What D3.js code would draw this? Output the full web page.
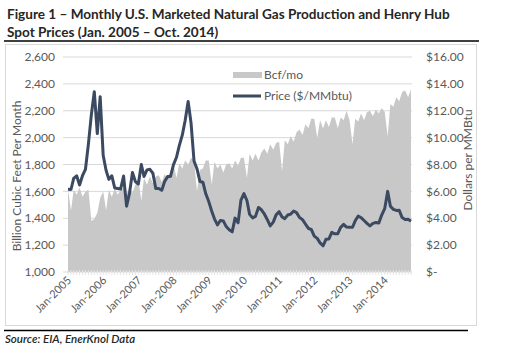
<!DOCTYPE html>
<html>
<head>
<meta charset="utf-8">
<script src="https://cdn.jsdelivr.net/npm/d3@7"></script>
<style>
  body { margin: 0; background: #fff; }
  text { font-family: Lato, "Open Sans", sans-serif; }
</style>
</head>
<body>
<div id="chart"></div>
<script>
// monthly marketed production, Bcf (Jan 2005 - Oct 2014)
const production = [
  1612, 1456, 1612, 1575, 1628, 1560, 1597, 1612, 1380, 1395, 1440, 1550,
  1600, 1460, 1610, 1560, 1620, 1575, 1610, 1620, 1580, 1630, 1590, 1650,
  1690, 1530, 1700, 1650, 1710, 1660, 1710, 1720, 1670, 1730, 1690, 1750,
  1800, 1700, 1810, 1770, 1830, 1800, 1850, 1830, 1600, 1760, 1770, 1830,
  1830, 1650, 1820, 1770, 1800, 1740, 1800, 1810, 1770, 1830, 1790, 1850,
  1850, 1700, 1880, 1830, 1880, 1830, 1890, 1920, 1880, 1950, 1910, 1960,
  1970, 1750, 1980, 1950, 2010, 1970, 2040, 2060, 2020, 2100, 2070, 2140,
  2140, 2000, 2130, 2070, 2130, 2080, 2150, 2150, 2070, 2150, 2130, 2200,
  2130, 1950, 2140, 2120, 2180, 2130, 2190, 2200, 2160, 2210, 2180, 2220,
  2190, 2010, 2250, 2230, 2300, 2270, 2340, 2350, 2300, 2360
];

// Henry Hub spot, $/MMBtu
const price = [
  6.15, 6.14, 6.96, 7.16, 6.47, 7.18, 7.63, 9.53, 11.75, 13.42, 10.30, 13.05,
  8.69, 7.54, 6.89, 7.16, 6.25, 6.21, 6.17, 7.14, 4.90, 5.85, 7.41, 6.73,
  6.55, 8.00, 7.11, 7.60, 7.64, 7.35, 6.22, 6.22, 6.08, 6.74, 7.10, 7.11,
  7.99, 8.54, 9.41, 10.18, 11.27, 12.69, 11.09, 8.26, 7.67, 6.74, 6.68, 5.82,
  5.24, 4.52, 3.96, 3.50, 3.83, 3.80, 3.38, 3.14, 2.99, 4.01, 3.66, 5.35,
  5.83, 5.32, 4.29, 4.03, 4.14, 4.80, 4.63, 4.32, 3.89, 3.43, 3.71, 4.25,
  4.49, 4.09, 3.97, 4.24, 4.31, 4.54, 4.42, 4.06, 3.90, 3.57, 3.24, 3.17,
  2.67, 2.50, 2.17, 1.95, 2.43, 2.46, 2.95, 2.84, 2.85, 3.32, 3.54, 3.34,
  3.33, 3.33, 3.81, 4.17, 4.04, 3.83, 3.62, 3.43, 3.62, 3.68, 3.64, 4.24,
  4.71, 6.00, 4.90, 4.66, 4.58, 4.59, 4.05, 3.91, 3.92, 3.78
];

const leftTicks = [1000, 1200, 1400, 1600, 1800, 2000, 2200, 2400, 2600];
const rightTicks = [0, 2, 4, 6, 8, 10, 12, 14, 16];
const yearLabels = [2005, 2006, 2007, 2008, 2009, 2010, 2011, 2012, 2013, 2014];

const titleLines = [
  "Figure 1 \u2013 Monthly U.S. Marketed Natural Gas Production and Henry Hub",
  "Spot Prices (Jan. 2005 \u2013 Oct. 2014)"
];
const seriesNames = ["Bcf/mo", "Price ($/MMbtu)"];

const width = 506, height = 352;
const areaGray = "#c8c8c8",
      lineBlue = "#3b4961",
      gridGray = "#d9d9d9",
      labelGray = "#595959";

var formatComma = d3.format(",d");
var formatDollar = d => d === 0 ? "$-" : "$" + d.toFixed(2);

const months = d3.timeMonth.range(new Date(2005, 0, 1), new Date(2014, 10, 1));
const data = months.map((m, i) => ({date: m, bcf: production[i], price: price[i]}));

const svg = d3.select("#chart").append("svg")
    .attr("width", width)
    .attr("height", height);

// title, shrunk so the first line ends where the reference's does
var title = svg.selectAll("text.title")
    .data(titleLines)
  .enter().append("text")
    .attr("class", "title")
    .attr("x", 7)
    .attr("y", (d, i) => 19 + i * 17.5)
    .attr("fill", "#262626")
    .attr("font-size", "15px")
    .attr("font-weight", "bold")
    .text(d => d);

var titleWidth = title.node().getComputedTextLength();
title.attr("font-size", (15 * 443 / titleWidth) + "px");

svg.append("line")
    .attr("x1", 4).attr("x2", 479)
    .attr("y1", 41).attr("y2", 41)
    .attr("stroke", "#000").attr("stroke-width", 1.5);

// chart frame
svg.append("rect")
    .attr("x", 5.5).attr("y", 44.5)
    .attr("width", 471).attr("height", 281)
    .attr("fill", "none")
    .attr("stroke", gridGray);

svg.append("line")
    .attr("x1", 4).attr("x2", 468)
    .attr("y1", 330.5).attr("y2", 330.5)
    .attr("stroke", "#000").attr("stroke-width", 1.5);

svg.append("text")
    .attr("x", 5).attr("y", 343)
    .attr("fill", "#262626")
    .attr("font-size", "11.5px")
    .attr("font-style", "italic")
    .attr("font-weight", 600)
    .text("Source: EIA, EnerKnol Data");

// scales
const x = d3.scaleTime()
    .domain([months[0], months[months.length - 1]])
    .range([68, 411]);

const yLeft = d3.scaleLinear().domain([1000, 2600]).range([272, 57]);
const yRight = d3.scaleLinear().domain([0, 16]).range([272, 57]);

// gridlines
svg.append("g")
    .selectAll("line")
    .data(leftTicks.slice(1))
  .enter().append("line")
    .attr("x1", 63).attr("x2", 412)
    .attr("y1", d => yLeft(d)).attr("y2", d => yLeft(d))
    .attr("stroke", gridGray);

// production area
svg.append("path")
    .datum(data)
    .attr("fill", areaGray)
    .attr("d", d3.area()
      .x(d => x(d.date))
      .y0(yLeft(1000))
      .y1(d => yLeft(d.bcf)));

// x axis
const xAxis = svg.append("g")
    .attr("transform", `translate(0,${yLeft(1000)})`);

xAxis.append("line")
    .attr("x1", 63).attr("x2", 412)
    .attr("stroke", gridGray);

xAxis.selectAll("line.tick")
    .data(months)
  .enter().append("line")
    .attr("class", "tick")
    .attr("x1", d => x(d)).attr("x2", d => x(d))
    .attr("y1", -2).attr("y2", 3)
    .attr("stroke", "#e4e4e4");

xAxis.selectAll("text")
    .data(yearLabels)
  .enter().append("text")
    .attr("transform", d => `translate(${x(new Date(d, 0, 1)) + 4},${9}) rotate(-45)`)
    .attr("text-anchor", "end")
    .attr("fill", labelGray)
    .attr("font-size", "11px")
    .text(d => "Jan-" + d);

// left axis labels
svg.append("g")
    .selectAll("text")
    .data(leftTicks)
  .enter().append("text")
    .attr("x", 55)
    .attr("y", d => yLeft(d))
    .attr("dy", "0.35em")
    .attr("text-anchor", "end")
    .attr("fill", labelGray)
    .attr("font-size", "12px")
    .text(d => formatComma(d));

// right axis labels
svg.append("g")
    .selectAll("text")
    .data(rightTicks)
  .enter().append("text")
    .attr("x", 426)
    .attr("y", d => yRight(d))
    .attr("dy", "0.35em")
    .attr("fill", labelGray)
    .attr("font-size", "12px")
    .text(d => formatDollar(d));

svg.append("text")
    .attr("transform", "translate(21,176) rotate(-90)")
    .attr("text-anchor", "middle")
    .attr("fill", labelGray)
    .attr("font-size", "12px")
    .text("Billion Cubic Feet Per Month");

svg.append("text")
    .attr("transform", "translate(468,160) rotate(-90)")
    .attr("text-anchor", "middle")
    .attr("dy", "0.35em")
    .attr("fill", labelGray)
    .attr("font-size", "12px")
    .text("Dollars per MMBtu");

// price line
svg.append("path")
    .datum(data)
    .attr("fill", "none")
    .attr("stroke", lineBlue)
    .attr("stroke-width", 3)
    .attr("stroke-linejoin", "round")
    .attr("d", d3.line()
      .x(d => x(d.date))
      .y(d => yRight(d.price)));

// legend
const legend = svg.append("g");

legend.append("rect")
    .attr("x", 233).attr("y", 72)
    .attr("width", 29).attr("height", 6)
    .attr("fill", areaGray);

legend.append("line")
    .attr("x1", 233).attr("x2", 261)
    .attr("y1", 96).attr("y2", 96)
    .attr("stroke", lineBlue)
    .attr("stroke-width", 3);

legend.selectAll("text")
    .data(seriesNames)
  .enter().append("text")
    .attr("x", 264)
    .attr("y", (d, i) => 75 + i * 21)
    .attr("dy", "0.35em")
    .attr("fill", labelGray)
    .attr("font-size", "12px")
    .text(d => d);
</script>
</body>
</html>
